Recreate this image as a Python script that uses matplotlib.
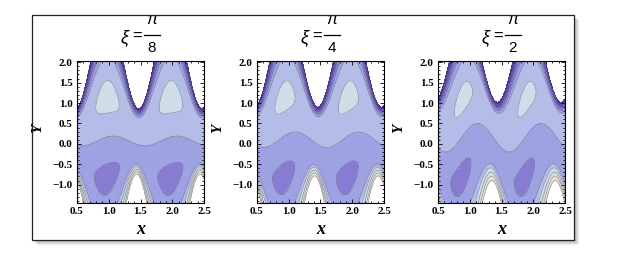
import numpy as np
import matplotlib.pyplot as plt
from matplotlib.colors import ListedColormap
from matplotlib.patches import Rectangle
from matplotlib.ticker import MultipleLocator

# panel titles
XI_DEN = ["8", "4", "2"]

# phase of the lower wall for each panel (rad)
LOW_PHASE = [0.50, 0.75, 1.20]

# walls (shared by all panels)
TOP_MEAN, TOP_A, TOP_B = 2.06, 0.80, 0.44
BOT_MEAN, BOT_A, BOT_B = 2.26, 1.20, 0.35

# dividing streamline
MID_MEAN = [0.07, 0.10, 0.15]
MID_AMP = [0.12, 0.19, 0.35]
MID_X = [1.07, 1.10, 1.12]

# trapped bolus strength (upper / lower)
UP_P0 = [0.87, 0.80, 0.74]
UP_P1 = [0.33, 0.37, 0.42]
UP_X = [0.98, 0.94, 0.90]
LO_P0 = [0.93, 0.87, 0.81]
LO_P1 = [0.22, 0.28, 0.35]
LO_X = [0.97, 0.92, 0.86]

LEVELS = np.arange(-4, 5)
COLORS = ["#553797", "#6d52b4", "#887bd2", "#9ea1e2",
          "#b3bde8", "#cfdde9", "#d7dde0", "#ebe6d3"]

W, H = 642, 277
PANEL_LEFT = [77, 257, 438]
PANEL_W = 127
PANEL_TOP, PANEL_BOT = 61, 203


def profile(e, e0, p):
    inside = p * 4 * e * (e0 - e) / e0 ** 2
    outside = -4 * (e - e0) / (1 - e0)
    return np.where(e <= e0, inside, outside)


def stream(X, Y, k):
    th = 2 * np.pi * X
    ph = LOW_PHASE[k]
    top = TOP_MEAN + TOP_A * np.cos(th) + TOP_B * np.cos(th + ph)
    bot = -BOT_MEAN - BOT_A * np.cos(th + ph) - BOT_B * np.cos(th)
    mid = MID_MEAN[k] + MID_AMP[k] * np.cos(2 * np.pi * (X - MID_X[k]))
    pu = UP_P0[k] + UP_P1[k] * np.cos(2 * np.pi * (X - UP_X[k]))
    pl = LO_P0[k] + LO_P1[k] * np.cos(2 * np.pi * (X - LO_X[k]))

    hu = top - mid
    hl = mid - bot
    eu = (Y - mid) / hu
    el = (mid - Y) / hl
    e0u = 1 - 0.36 * (hu / 3.0) ** 0.3
    e0l = 1 - 0.47 * (hl / 3.9) ** 0.2

    return np.where(Y >= mid, profile(eu, e0u, pu), -profile(el, e0l, pl))


fig = plt.figure(figsize=(W / 100, H / 100), dpi=100)

# background box with shadow, in pixel coords
bg = fig.add_axes([0, 0, 1, 1], zorder=0)
bg.set_xlim(0, W)
bg.set_ylim(H, 0)
bg.axis("off")
bx, by, bw, bh = 32, 15, 542, 225
for i in range(1, 6):
    bg.add_patch(Rectangle((bx + i, by + i), bw, bh, color="black", alpha=0.07, lw=0))
bg.add_patch(Rectangle((bx, by), bw, bh, facecolor="white", edgecolor="none"))

xs = np.linspace(0.5, 2.5, 500)
ys = np.linspace(-1.45, 2.0, 600)
X, Y = np.meshgrid(xs, ys)
cmap = ListedColormap(COLORS)

for k in range(3):
    left = PANEL_LEFT[k]
    ax = fig.add_axes([left / W, 1 - PANEL_BOT / H, PANEL_W / W,
                       (PANEL_BOT - PANEL_TOP) / H], zorder=2)
    psi = stream(X, Y, k)
    ax.contourf(X, Y, psi, levels=LEVELS, cmap=cmap)
    ax.contour(X, Y, psi, levels=LEVELS, colors="#3c3c60", linewidths=0.5,
               linestyles="solid", alpha=0.5)

    ax.set_xlim(0.5, 2.5)
    ax.set_ylim(-1.45, 2.03)
    ax.xaxis.set_minor_locator(MultipleLocator(0.1))
    ax.yaxis.set_minor_locator(MultipleLocator(0.1))
    ax.tick_params(which="both", direction="in", top=True, right=True, width=0.6)
    ax.tick_params(which="major", length=3, pad=3)
    ax.tick_params(which="minor", length=1.5)
    for sp in ax.spines.values():
        sp.set_linewidth(0.8)
    ax.set_xticks([0.5, 1.0, 1.5, 2.0, 2.5])
    ax.set_xticklabels(["0.5", "1.0", "1.5", "2.0", "2.5"])
    ax.set_yticks([-1.0, -0.5, 0.0, 0.5, 1.0, 1.5, 2.0])
    ax.set_yticklabels(["\u22121.0", "\u22120.5", "0.0", "0.5", "1.0", "1.5", "2.0"])
    for lab in ax.get_xticklabels() + ax.get_yticklabels():
        lab.set_fontfamily("Liberation Serif")
        lab.set_fontweight("bold")
        lab.set_fontsize(8)

    pc = left + PANEL_W / 2
    bg.text(pc, 229, "x", ha="center", va="center", fontsize=13,
            family="Liberation Serif", style="italic", weight="bold")
    bg.text(left - 39, 128, "Y", ha="center", va="center", fontsize=11, rotation=90,
            family="Liberation Serif", style="italic", weight="bold")

    # title: xi = pi / n
    bg.text(pc - 16, 38, "\u03be", ha="center", va="center", fontsize=13,
            family="Liberation Sans", style="italic")
    bg.text(pc - 3, 36, "=", ha="center", va="center", fontsize=12,
            family="Liberation Sans")
    bg.plot([pc + 3, pc + 19], [35, 35], color="black", lw=0.9)
    bg.text(pc + 11, 20, "\u03c0", ha="center", va="center", fontsize=12,
            family="Liberation Sans", style="italic")
    bg.text(pc + 11, 48, XI_DEN[k], ha="center", va="center", fontsize=11,
            family="Liberation Sans")

# the top edge of the box cuts off the numerators
bg.add_patch(Rectangle((0, 0), W, by, facecolor="white", edgecolor="none", zorder=5))
bg.add_patch(Rectangle((bx, by), bw, bh, facecolor="none", edgecolor="#222222", lw=0.9, zorder=6))

fig.savefig("out.png", dpi=100)
